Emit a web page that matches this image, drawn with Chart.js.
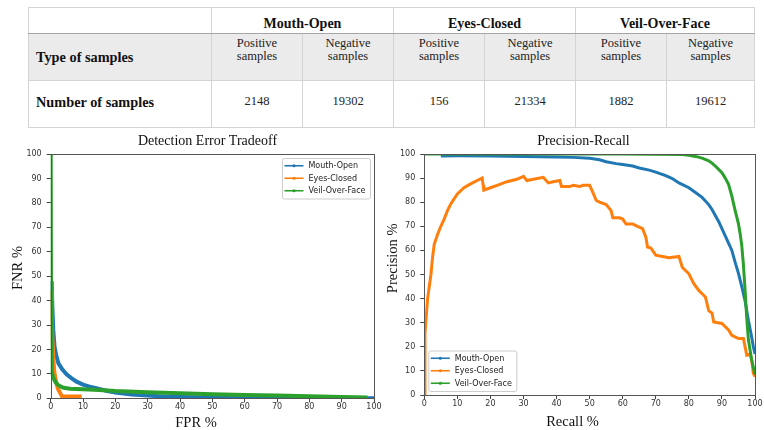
<!DOCTYPE html>
<html>
<head>
<meta charset="utf-8">
<script src="https://cdn.jsdelivr.net/npm/chart.js@4.4.1/dist/chart.umd.min.js"></script>
<style>
  html, body { margin:0; padding:0; background:#fff; }
  body { width:764px; height:430px; position:relative; overflow:hidden; }
  #tbl { position:absolute; left:28px; top:7px; width:726px; border-collapse:collapse; table-layout:fixed;
         font-family:"Liberation Serif","Times New Roman",serif; color:#111; }
  #tbl td { border:1px solid #d4d4d4; text-align:center; vertical-align:top; padding:0; overflow:hidden; }
  #tbl tr.r1 { height:26px; }
  #tbl tr.r1 td { font-weight:bold; font-size:14px; line-height:16px; padding-top:8px; border-bottom-color:#a6a6a6; }
  #tbl tr.r2 { height:47px; background:#ebebeb; }
  #tbl tr.r2 td { font-size:12.5px; line-height:13px; padding-top:3px; color:#222; }
  #tbl tr.r3 { height:47px; }
  #tbl tr.r3 td { font-size:12.5px; line-height:14px; padding-top:13px; color:#222; }
  #tbl tr.r2 td.lab, #tbl tr.r3 td.lab { text-align:left; padding-left:7px; font-weight:bold; font-size:14.3px; line-height:16px; color:#111; }
  #tbl tr.r2 td.lab { padding-top:15px; }
  #tbl tr.r3 td.lab { padding-top:13px; }
  .cv { position:absolute; top:130px; }
  #c1 { left:0; }
  #c2 { left:385px; }
</style>
</head>
<body>
<table id="tbl"></table>
<canvas id="c1" class="cv" width="385" height="300"></canvas>
<canvas id="c2" class="cv" width="379" height="300"></canvas>
<script>
// ---------- table data ----------
const groups = ['Mouth-Open', 'Eyes-Closed', 'Veil-Over-Face'];
const rowLabels = ['Type of samples', 'Number of samples'];
const sampleTypes = ['Positive', 'Negative'];
const sampleCounts = [2148, 19302, 156, 21334, 1882, 19612];

// ---------- chart data ----------
const seriesNames = ['Mouth-Open', 'Eyes-Closed', 'Veil-Over-Face'];
const axisTicks = [0, 10, 20, 30, 40, 50, 60, 70, 80, 90, 100];

// Detection Error Tradeoff (FPR %, FNR %)
const detMouthFPR = [0.3, 0.5, 0.8, 1.2, 1.8, 2.4, 3.5, 4.9, 6.5, 8, 10, 12.5, 15, 17.5, 20, 25, 30, 36, 45, 60, 80, 100];
const detMouthFNR = [48, 38, 28, 21, 17, 14.3, 12, 9.8, 8.2, 6.8, 5.6, 4.6, 3.8, 3.0, 2.4, 1.6, 1.1, 0.6, 0.4, 0.2, 0.1, 0];
const detEyesFPR  = [0.1, 0.3, 0.5, 0.8, 1.1, 1.5, 1.8, 2.2, 2.6, 3.0, 3.5, 9.6];
const detEyesFNR  = [44, 33, 25, 17, 11, 8, 6, 4, 3, 2, 0.7, 0.7];
const detVeilFPR  = [0, 0.1, 0.2, 0.4, 0.8, 1.5, 2.5, 4, 6, 10, 15, 20, 30, 40, 50, 60, 70, 80, 90, 98];
const detVeilFNR  = [100, 40, 16, 11, 8.5, 6.5, 5.2, 4.3, 3.9, 3.7, 3.4, 3.0, 2.5, 2.1, 1.7, 1.4, 1.1, 0.8, 0.5, 0.3];

// Precision-Recall (Recall %, Precision %)
const prMouthRecall = [5, 10, 20, 30, 40, 45, 50, 53, 55, 58, 60, 63, 65, 68, 70, 73, 75, 77, 80, 82, 84, 86, 87, 88, 89, 90, 91, 92, 93, 94, 95, 96, 97, 98, 99, 99.5, 100];
const prMouthPrec   = [99.2, 99.3, 99.2, 99, 98.8, 98.6, 98.2, 97.6, 96.8, 96, 95.6, 95, 94.2, 93.3, 92.5, 91, 89.8, 88, 86, 84, 82, 79, 77, 74.5, 72, 69, 66, 63, 60, 55, 50.5, 45, 39, 31, 24, 20, 17];
const prEyesRecall  = [0, 0.2, 1, 2, 2.5, 3, 4, 5, 6, 7, 8, 9, 10, 12, 14, 16, 17.5, 17.8, 18, 20, 22, 25, 28, 30, 31, 33, 36, 37.5, 39, 41, 41.5, 44, 45, 47, 48, 50, 51, 52, 53, 55, 56.5, 57, 59, 60, 61, 63, 64, 66, 67, 67.5, 68.5, 69, 70, 72, 74, 77, 78, 80, 81.5, 83, 84, 85, 86, 87, 87.5, 90, 92, 93, 95, 96.5, 97, 97.5, 98.5, 99, 99.5, 100];
const prEyesPrec    = [0, 25.5, 40, 50, 57, 62.5, 66.6, 70, 73, 76.5, 79.3, 81.4, 83.4, 86, 87.6, 89, 90, 87, 85, 86, 87, 88.5, 89.5, 90.7, 89, 89.5, 90.3, 88, 88.5, 89, 86.5, 86.5, 87, 86.5, 87, 87, 84, 80.7, 80, 79, 76.5, 73.5, 73.5, 73, 71, 71, 70.3, 69, 65.5, 61.4, 61, 60, 58, 57.5, 57, 57.5, 53, 50.3, 46.2, 43.4, 42, 40.7, 35, 34, 30.3, 29.7, 27, 24.8, 23.4, 23.4, 20, 16.5, 17, 14.5, 9, 7.6];
const prVeilRecall  = [0, 20, 40, 60, 78, 80, 82, 84, 86, 87, 88, 89, 90, 91, 92, 93, 94, 95, 95.5, 96, 96.5, 97, 97.5, 98, 99, 100];
const prVeilPrec    = [100, 100, 100, 100, 99.8, 99.5, 99, 98.3, 97.2, 96.2, 95, 93.6, 92.2, 90, 87.4, 82.5, 76.5, 71, 67, 62, 54, 43.5, 32, 23, 14.5, 8.5];

// ---------- build table ----------
(function buildTable() {
  const t = document.getElementById('tbl');
  let h = '<colgroup><col style="width:183px">';
  const subW = [91, 91, 91, 91, 91, 88];
  subW.forEach(w => { h += '<col style="width:' + w + 'px">'; });
  h += '</colgroup>';
  h += '<tr class="r1"><td></td>' + groups.map(g => '<td colspan="2">' + g + '</td>').join('') + '</tr>';
  h += '<tr class="r2"><td class="lab">' + rowLabels[0] + '</td>' +
       groups.map(() => sampleTypes.map(s => '<td>' + s + '<br>samples</td>').join('')).join('') + '</tr>';
  h += '<tr class="r3"><td class="lab">' + rowLabels[1] + '</td>' +
       sampleCounts.map(n => '<td>' + n + '</td>').join('') + '</tr>';
  t.innerHTML = h;
})();

// ---------- chart helpers ----------
const seriesColors = ['#1f77b4', '#ff7f0e', '#2ca02c'];
function pts(xs, ys) { return xs.map((x, i) => ({ x: x, y: ys[i] })); }
function makeDatasets(series, width) {
  return series.map((s, i) => ({
    label: seriesNames[i], data: pts(s[0], s[1]),
    borderColor: seriesColors[i], backgroundColor: seriesColors[i],
    borderWidth: width, pointRadius: 0, showLine: true, fill: false, tension: 0,
    order: series.length - 1 - i
  }));
}
function axes(xTitle, yTitle, yWidth, xHeight) {
  const tickFont = { family: '"DejaVu Sans", sans-serif', size: 8 };
  const setTicks = s => { s.ticks = axisTicks.map(v => ({ value: v })); };
  return {
    x: { type: 'linear', min: 0, max: 100, afterBuildTicks: setTicks,
         ticks: { font: tickFont, color: '#333', padding: 0, maxRotation: 0, autoSkip: false },
         grid: { drawOnChartArea: false, drawTicks: true, tickLength: 4, color: '#444' },
         border: { display: false },
         title: { display: false, text: xTitle },
         afterFit: s => { s.height = xHeight; } },
    y: { type: 'linear', min: 0, max: 100, afterBuildTicks: setTicks,
         ticks: { font: tickFont, color: '#333', padding: 5, autoSkip: false },
         grid: { drawOnChartArea: false, drawTicks: true, tickLength: 4, color: '#444' },
         border: { display: false },
         title: { display: false, text: yTitle },
         afterFit: s => { s.width = yWidth; } }
  };
}

const framePlugin = {
  id: 'frame',
  afterDatasetsDraw(chart) {
    const { ctx, chartArea: a } = chart;
    ctx.save();
    ctx.strokeStyle = '#555'; ctx.lineWidth = 1;
    ctx.strokeRect(Math.round(a.left) + 0.5, Math.round(a.top) + 0.5, Math.round(a.right - a.left), Math.round(a.bottom - a.top));
    ctx.restore();
  }
};

const mplLegend = {
  id: 'mplLegend',
  afterDatasetsDraw(chart, args, o) {
    const { ctx, chartArea: a } = chart;
    const ds = chart.data.datasets;
    ctx.save();
    ctx.font = o.fontSize + 'px "DejaVu Sans", sans-serif';
    const tw = Math.max(...ds.map(d => ctx.measureText(d.label).width));
    const w = o.padL + o.lineLen + o.gap + tw + o.padR;
    const h = o.rowH * ds.length + o.padY * 2;
    let x, y;
    if (o.corner === 'topRight') { x = a.right - o.margin - w; y = a.top + o.margin; }
    else { x = a.left + o.margin; y = a.bottom - o.margin - h; }
    ctx.beginPath();
    if (ctx.roundRect) ctx.roundRect(x + 0.5, y + 0.5, w, h, 2); else ctx.rect(x + 0.5, y + 0.5, w, h);
    ctx.fillStyle = 'rgba(255,255,255,0.85)'; ctx.fill();
    ctx.strokeStyle = '#cccccc'; ctx.lineWidth = 1; ctx.stroke();
    ds.forEach((d, i) => {
      const cy = y + o.padY + o.rowH * (i + 0.5);
      const lx = x + o.padL;
      ctx.strokeStyle = d.borderColor; ctx.lineWidth = 1.6;
      ctx.beginPath(); ctx.moveTo(lx, cy); ctx.lineTo(lx + o.lineLen, cy); ctx.stroke();
      ctx.fillStyle = d.borderColor;
      ctx.beginPath(); ctx.arc(lx + o.lineLen / 2, cy, 1.6, 0, Math.PI * 2); ctx.fill();
      ctx.fillStyle = '#222'; ctx.textAlign = 'left'; ctx.textBaseline = 'middle';
      ctx.fillText(d.label, lx + o.lineLen + o.gap, cy + 0.5);
    });
    ctx.restore();
  }
};

const textLabels = {
  id: 'textLabels',
  afterDraw(chart, args, o) {
    const ctx = chart.ctx;
    ctx.save();
    ctx.fillStyle = '#111'; ctx.textAlign = 'center'; ctx.textBaseline = 'middle';
    ctx.font = o.titleFont;
    ctx.fillText(chart.options.plugins.title.text, o.title[0], o.title[1]);
    ctx.font = o.axisFont;
    ctx.fillText(chart.options.scales.x.title.text, o.xLab[0], o.xLab[1]);
    ctx.translate(o.yLab[0], o.yLab[1]); ctx.rotate(-Math.PI / 2);
    ctx.fillText(chart.options.scales.y.title.text, 0, 0);
    ctx.restore();
  }
};

function makeChart(id, cfg) {
  return new Chart(document.getElementById(id), {
    type: 'scatter',
    data: { datasets: makeDatasets(cfg.series, cfg.lineWidth) },
    options: {
      responsive: false, animation: false, devicePixelRatio: 1,
      layout: { padding: cfg.padding },
      scales: axes(cfg.xTitle, cfg.yTitle, cfg.yWidth, cfg.xHeight),
      plugins: {
        legend: { display: false }, tooltip: { enabled: false },
        title: { display: false, text: cfg.title },
        mplLegend: Object.assign({ fontSize: 8, rowH: 12.5, padY: 1.5, padL: 2.5, lineLen: 19, gap: 5, padR: 4.5, margin: 4 }, cfg.legend),
        textLabels: Object.assign({ titleFont: '14px "Liberation Serif", serif', axisFont: '14.5px "Liberation Serif", serif' }, cfg.labels)
      }
    },
    plugins: [framePlugin, mplLegend, textLabels]
  });
}

makeChart('c1', {
  series: [[detMouthFPR, detMouthFNR], [detEyesFPR, detEyesFNR], [detVeilFPR, detVeilFNR]],
  lineWidth: 4, title: 'Detection Error Tradeoff', xTitle: 'FPR %', yTitle: 'FNR %',
  padding: { left: 0, top: 24, right: 11, bottom: 0 }, yWidth: 50.7, xHeight: 31.7,
  legend: { corner: 'topRight' },
  labels: { title: [207.5, 11], xLab: [196, 293], yLab: [18, 138] }
});

makeChart('c2', {
  series: [[prMouthRecall, prMouthPrec], [prEyesRecall, prEyesPrec], [prVeilRecall, prVeilPrec]],
  lineWidth: 3, title: 'Precision-Recall', xTitle: 'Recall %', yTitle: 'Precision %',
  padding: { left: 0, top: 24, right: 9, bottom: 0 }, yWidth: 39.3, xHeight: 35,
  legend: { corner: 'bottomLeft' },
  labels: { title: [198.4, 11], xLab: [187.5, 291.7], yLab: [8, 128.3] }
});
</script>
</body>
</html>
